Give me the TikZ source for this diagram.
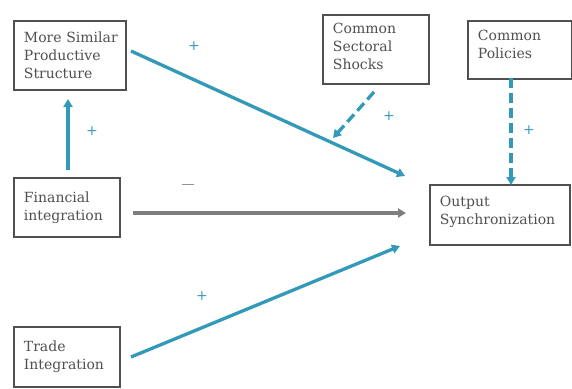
\documentclass[tikz,border=0pt]{standalone}
\usepackage{fontspec}
\setmainfont{DejaVu Serif}
\usetikzlibrary{arrows.meta}
\definecolor{teal1}{HTML}{3399B8}
\definecolor{boxgray}{HTML}{505052}
\definecolor{txtgray}{HTML}{505050}
\definecolor{linegray}{HTML}{7F7F7F}
\tikzset{
  box/.style={draw=boxgray, line width=1.9pt, fill=white, anchor=north west, align=left,
    inner xsep=10pt, inner ysep=0pt, text=txtgray,
    font=\fontsize{14}{18}\selectfont},
  tealarrow/.style={draw=teal1, line width=3.3pt, -{Triangle[length=8pt,width=9pt]}},
  grayarrow/.style={draw=linegray, line width=3.3pt, -{Triangle[length=8pt,width=9pt]}},
  dasharrow/.style={draw=teal1, line width=3.3pt, dash pattern=on 10pt off 5pt, -{Triangle[length=8pt,width=9pt]}},
  sign/.style={text=teal1, font=\fontsize{14}{14}\selectfont, inner sep=0pt},
}
\begin{document}
\begin{tikzpicture}[x=1pt,y=-1pt]
\useasboundingbox (0,0) rectangle (572,388);
\node[box, text width=92pt, minimum height=69pt] (ms) at (13,20) {\mbox{More Similar}\\Productive\\Structure};
\node[box, text width=86pt, minimum height=69pt] (css) at (322,14) {Common\\Sectoral\\Shocks\vspace{6pt}};
\node[box, text width=84pt, minimum height=58pt] (cp) at (467,20) {Common\\Policies\vspace{12pt}};
\node[box, text width=86pt, minimum height=59pt] (fi) at (13,177) {Financial\\integration};
\node[box, text width=120pt, minimum height=60pt] (os) at (429,184) {Output\\\mbox{Synchronization}\vspace{6pt}};
\node[box, text width=86pt, minimum height=60pt] (ti) at (13,326) {Trade\\Integration};

\coordinate (msS) at (131,51);
\coordinate (msE) at (405,176);
\coordinate (fiU) at (68,170);
\coordinate (msU) at (68,99);
\coordinate (fiS) at (133,213);
\coordinate (fiE) at (406,213);
\coordinate (tiS) at (131,357);
\coordinate (tiE) at (400,246);
\coordinate (cssS) at (374,92);
\coordinate (cssE) at (333,138);
\coordinate (cpS) at (511,78);
\coordinate (cpE) at (511,185);

\draw[tealarrow] (msS) -- (msE);
\draw[tealarrow] (fiU) -- (msU);
\draw[grayarrow] (fiS) -- (fiE);
\draw[tealarrow] (tiS) -- (tiE);
\draw[dasharrow] (cssS) -- (cssE);
\draw[dasharrow] (cpS) -- (cpE);

\node[sign] (p1) at (194,46) {+};
\node[sign] (p2) at (92,131) {+};
\node[sign] (p3) at (389,116) {+};
\node[sign] (p4) at (529,130) {+};
\node[sign] (p5) at (202,296) {+};
\node[text=linegray, font=\fontsize{13}{13}\selectfont, inner sep=0pt] (m1) at (188,187) {—};
\end{tikzpicture}
\end{document}
